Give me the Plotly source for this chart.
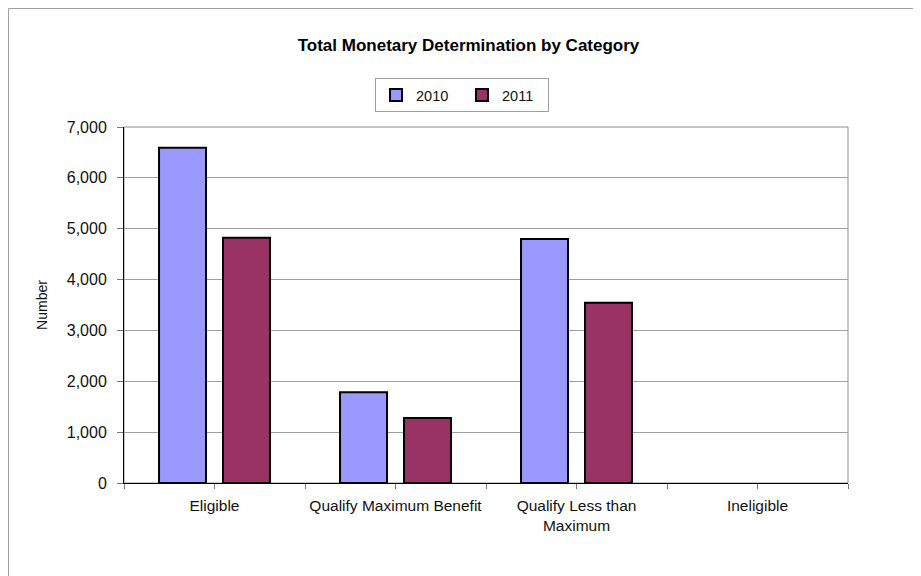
import plotly.graph_objects as go

# Dati
categorie = ["Eligible", "Qualify Maximum Benefit", "Qualify Less than<br>Maximum", "Ineligible"]
anni = ["2010", "2011"]
valori_2010 = [6590, 1785, 4800, 0]
valori_2011 = [4820, 1280, 3545, 0]
colori = ["#9999FF", "#993366"]

FONT = "Liberation Sans, Arial, sans-serif"

fig = go.Figure()
for anno, valori, colore in zip(anni, [valori_2010, valori_2011], colori):
    fig.add_trace(go.Bar(
        x=categorie,
        y=valori,
        name=anno,
        # niente contorno sulle barre a zero
        marker=dict(color=colore,
                    line=dict(color="black", width=[2 if v > 0 else 0 for v in valori])),
    ))

# traccia vuota per far disegnare l'asse secondario (tacche al centro delle categorie)
fig.add_trace(go.Scatter(x=[], y=[], xaxis="x2", showlegend=False, hoverinfo="skip"))

# bordo grigio dell'area del grafico (sopra e a destra)
fig.add_shape(type="rect", xref="paper", yref="paper", x0=0, x1=1, y0=0, y1=1,
              line=dict(color="#8c8c8c", width=1), layer="below")
# bordo esterno del chart
fig.add_shape(type="rect", xref="paper", yref="paper", x0=-0.1595, x1=1.2, y0=-0.5, y1=1.3329,
              line=dict(color="#a0a0a0", width=1))

fig.update_layout(
    width=921, height=576,
    margin=dict(l=116, r=81, t=119, b=101),
    paper_bgcolor="white", plot_bgcolor="white",
    font=dict(family=FONT, size=14, color="#111111"),
    title=dict(text="<b>Total Monetary Determination by Category</b>",
               x=0.5, xref="container", xanchor="center", y=0.936, yanchor="middle",
               font=dict(size=17, color="black")),
    barmode="group", bargap=0.293, bargroupgap=0.266,
    showlegend=True,
    legend=dict(orientation="h", x=0.3467, xanchor="left", y=1.09, yanchor="middle",
                bordercolor="#a0a0a0", borderwidth=1, bgcolor="white",
                font=dict(size=14.5), itemwidth=30, entrywidth=41,
                tracegroupgap=0),
    xaxis=dict(type="category", showline=True, linecolor="black", linewidth=1,
               ticks="outside", tickson="boundaries", ticklen=5, tickcolor="#777777",
               showgrid=False, tickfont=dict(size=15.5), ticklabelstandoff=8,
               tickangle=0, automargin=False),
    xaxis2=dict(overlaying="x", anchor="y", range=[-0.5, 3.5], showgrid=False, showline=False,
                ticks="outside", ticklen=5, tickcolor="#777777", showticklabels=False,
                tickmode="array", tickvals=[0, 1, 2, 3], zeroline=False, side="bottom",
                fixedrange=True),
    yaxis=dict(range=[0, 7000], dtick=1000, tickformat=",", showline=True,
               linecolor="black", linewidth=1, ticks="outside", ticklen=6,
               tickcolor="#777777", showgrid=True, gridcolor="#a0a0a0", gridwidth=1,
               zeroline=False, tickfont=dict(size=16), ticklabelstandoff=7,
               title=dict(text="Number", standoff=15, font=dict(size=14))),
)

fig.write_html("out.html")
